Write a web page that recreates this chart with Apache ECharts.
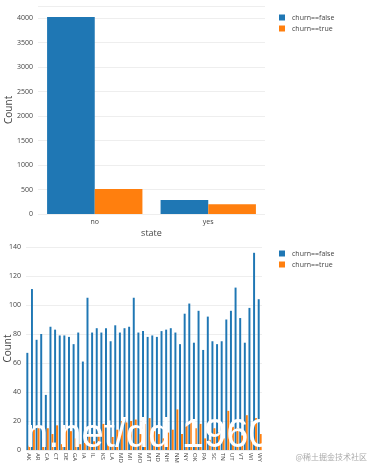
<!DOCTYPE html>
<html><head><meta charset="utf-8">
<script src="https://cdn.jsdelivr.net/npm/echarts@6/dist/echarts.min.js"></script>
<style>html,body{margin:0;padding:0;background:#fff}#c{width:370px;height:466px}</style>
</head><body><div id="c"></div>
<script>
const planCategories = ['no', 'yes'];
const planFalse = [4019, 288];
const planTrue = [508, 199];
const planTicks = [0, 500, 1000, 1500, 2000, 2500, 3000, 3500, 4000];

const states = ['AK','AL','AR','AZ','CA','CO','CT','DC','DE','FL','GA','HI','IA','ID','IL','IN','KS','KY','LA','MA','MD','ME','MI','MN','MO','MS','MT','NC','ND','NE','NH','NJ','NM','NV','NY','OH','OK','OR','PA','RI','SC','SD','TN','TX','UT','VA','VT','WA','WI','WV','WY'];
const stateFalse = [67,111,76,80,38,85,83,79,79,78,73,81,61,105,81,84,81,84,75,86,81,84,85,105,81,82,78,79,78,82,83,84,81,73,94,101,74,96,69,92,75,73,75,90,96,112,91,74,98,136,104];
const stateTrue = [3,14,15,8,15,11,17,4,15,13,8,4,5,10,6,12,18,11,9,14,20,19,20,21,11,18,22,13,11,8,12,14,28,11,18,20,15,18,8,7,15,12,8,27,16,15,10,24,7,22,11];
const stateTicks = [0, 20, 40, 60, 80, 100, 120, 140];

const FONT = '"Open Sans", sans-serif';
const BLUE = '#1f77b4', ORANGE = '#ff7f0e';
const chart = echarts.init(document.getElementById('c'));
const legendCommon = {
  orient: 'vertical', left: 274, itemWidth: 6, itemHeight: 6, itemGap: 4,
  icon: 'rect', textStyle: {fontFamily: FONT, fontSize: 7, color: '#444', padding: [0,0,0,2]}
};
const yCommon = {
  type: 'value', nameLocation: 'middle', nameRotate: 90, nameMoveOverlap: false,
  nameTextStyle: {fontFamily: FONT, fontSize: 10, color: '#444'},
  axisLine: {show: false}, axisTick: {show: false},
  axisLabel: {fontFamily: FONT, fontSize: 7, color: '#444', margin: 5, showMaxLabel: false, formatter: v => String(v)},
  splitLine: {lineStyle: {color: '#eee', width: 1}}
};
chart.setOption({
  animation: false,
  textStyle: {fontFamily: FONT},
  legend: [
    Object.assign({}, legendCommon, {top: 9, data: ['churn==false', 'churn==true']}),
    Object.assign({}, legendCommon, {top: 245, data: [{name: 'churn==false'}, {name: 'churn==true'}]})
  ],
  grid: [
    {left: 38, right: 105, top: 5.75, bottom: 252, containLabel: false, outerBoundsMode: 'none'},
    {left: 26, right: 108, top: 247, bottom: 16, containLabel: false, outerBoundsMode: 'none'}
  ],
  xAxis: [
    {type: 'category', gridIndex: 0, data: planCategories, name: 'state', nameLocation: 'middle', nameGap: 15,
     nameMoveOverlap: false,
     nameTextStyle: {fontFamily: FONT, fontSize: 9, color: '#444'},
     axisLine: {show: false}, axisTick: {show: false},
     axisLabel: {fontFamily: FONT, fontSize: 7, color: '#444', margin: 4}},
    {type: 'category', gridIndex: 1, data: states,
     axisLine: {show: false}, axisTick: {show: false},
     axisLabel: {fontFamily: FONT, fontSize: 6, color: '#444', rotate: -90, interval: 1, margin: 3}}
  ],
  yAxis: [
    Object.assign({}, yCommon, {gridIndex: 0, min: planTicks[0], max: 4250, interval: 500, name: 'Count', nameGap: 24}),
    Object.assign({}, yCommon, {gridIndex: 1, min: stateTicks[0], max: 140, interval: 20, name: 'Count', nameGap: 13,
      axisLabel: Object.assign({}, yCommon.axisLabel, {showMaxLabel: true})})
  ],
  series: [
    {name: 'churn==false', type: 'bar', xAxisIndex: 0, yAxisIndex: 0, data: planFalse, itemStyle: {color: BLUE}, barGap: '0%', barCategoryGap: '16%'},
    {name: 'churn==true', type: 'bar', xAxisIndex: 0, yAxisIndex: 0, data: planTrue, itemStyle: {color: ORANGE}, barGap: '0%', barCategoryGap: '16%'},
    {name: 'churn==false', type: 'bar', xAxisIndex: 1, yAxisIndex: 1, data: stateFalse, itemStyle: {color: BLUE}, barGap: '0%', barCategoryGap: '15%'},
    {name: 'churn==true', type: 'bar', xAxisIndex: 1, yAxisIndex: 1, data: stateTrue, itemStyle: {color: ORANGE}, barGap: '0%', barCategoryGap: '15%'}
  ],
  graphic: [
    {type: 'text', left: 26, top: 416, z: 100, silent: true,
     style: {text: 'n.net/dd 1960', fill: '#fff', font: '40px "Liberation Sans", sans-serif'}},
    {type: 'text', right: 3, top: 453, z: 100, silent: true,
     style: {text: '@稀土掘金技术社区', fill: '#aaa', font: '8px "Noto Sans CJK SC", sans-serif'}}
  ]
});
</script>
</body></html>
